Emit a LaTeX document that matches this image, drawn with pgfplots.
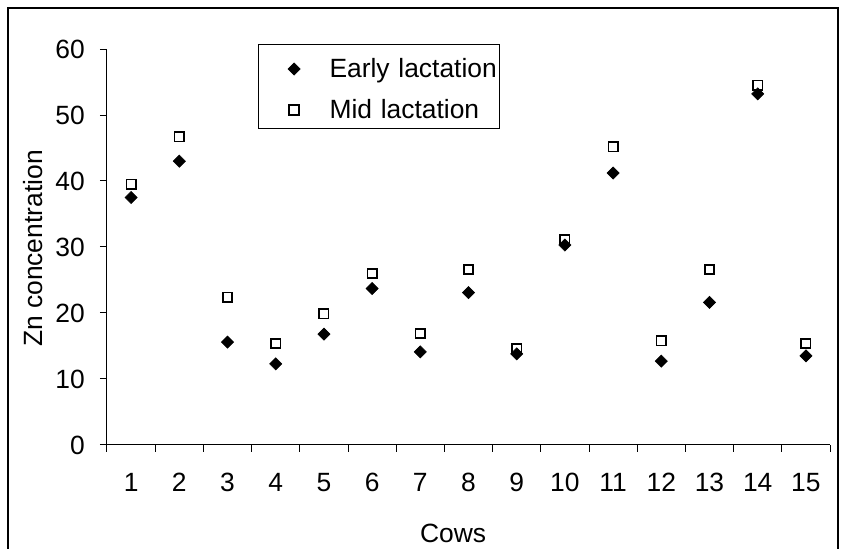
\documentclass[border=0pt]{standalone}
\usepackage{pgfplots}
\pgfplotsset{compat=1.18}
\usepackage{fontspec}
\setmainfont{Liberation Sans}
\begin{document}
\fontsize{13.2pt}{15pt}\selectfont
\begin{tikzpicture}
\begin{axis}[
  scale only axis, width=361.5pt, height=198pt,
  xmin=0.5, xmax=15.5, ymin=0, ymax=60,
  axis x line=bottom, axis y line=left,
  axis line style={-, line width=0.5pt, black},
  xtick={0.5,1.5,...,15.5}, xticklabels={},
  extra x ticks={1,2,...,15},
  extra x tick style={xtick style={draw=none}},
  ytick={0,10,...,60},
  tick align=outside, major tick length=3.5pt,
  tick style={black, line width=0.5pt},
  /pgf/number format/assume math mode=true,
  tick label style={font=\fontsize{13.2pt}{15pt}\selectfont},
  yticklabel style={xshift=-3pt},
  xticklabel style={yshift=-6pt},
  every axis x label/.style={at={(axis description cs:0.4786,0)}, anchor=base, yshift=-49pt},
  every axis y label/.style={at={(axis description cs:0,0.496)}, rotate=90, anchor=base, yshift=32pt},
  xlabel={Cows}, ylabel={Zn concentration},
  legend cell align=left,
  legend image code/.code={\path (0pt,-1pt) (35pt,1pt); \draw[#1] plot coordinates {(17.5pt,-1.5pt)};},
  legend style={at={(0.2089,1.0126)}, anchor=north west, draw=black, line width=0.5pt,
    inner xsep=0pt, inner ysep=1pt, row sep=1pt, fill=white,
    nodes={inner sep=0pt, text width=85pt, text height=15.5pt, text depth=4pt, font=\fontsize{13.2pt}{15pt}\selectfont}},
]
\addplot[only marks, mark=square*, mark size=2.15pt, mark options={rotate=45, fill=black, draw=black, line width=0.3pt}]
coordinates {(1,37.5) (2,43.0) (3,15.6) (4,12.3) (5,16.8) (6,23.7) (7,14.1) (8,23.1) (9,13.8) (10,30.3) (11,41.2) (12,12.7) (13,21.6) (14,53.2) (15,13.5)};
\addlegendentry{Early lactation}
\addplot[only marks, mark=square, mark size=2.35pt, mark options={draw=black, line width=0.85pt}]
coordinates {(1,39.5) (2,46.7) (3,22.4) (4,15.4) (5,19.9) (6,26.0) (7,16.9) (8,26.6) (9,14.6) (10,31.1) (11,45.2) (12,15.8) (13,26.6) (14,54.5) (15,15.4)};
\addlegendentry{Mid lactation}
\end{axis}
\draw[line width=0.8pt] (-49.5pt,-70pt) -- (-49.5pt,218.5pt) -- (365.5pt,218.5pt) -- (365.5pt,-70pt);
\pgfresetboundingbox
\useasboundingbox (-53.5pt,-52pt) rectangle (369.5pt,222.5pt);
\end{tikzpicture}
\end{document}
